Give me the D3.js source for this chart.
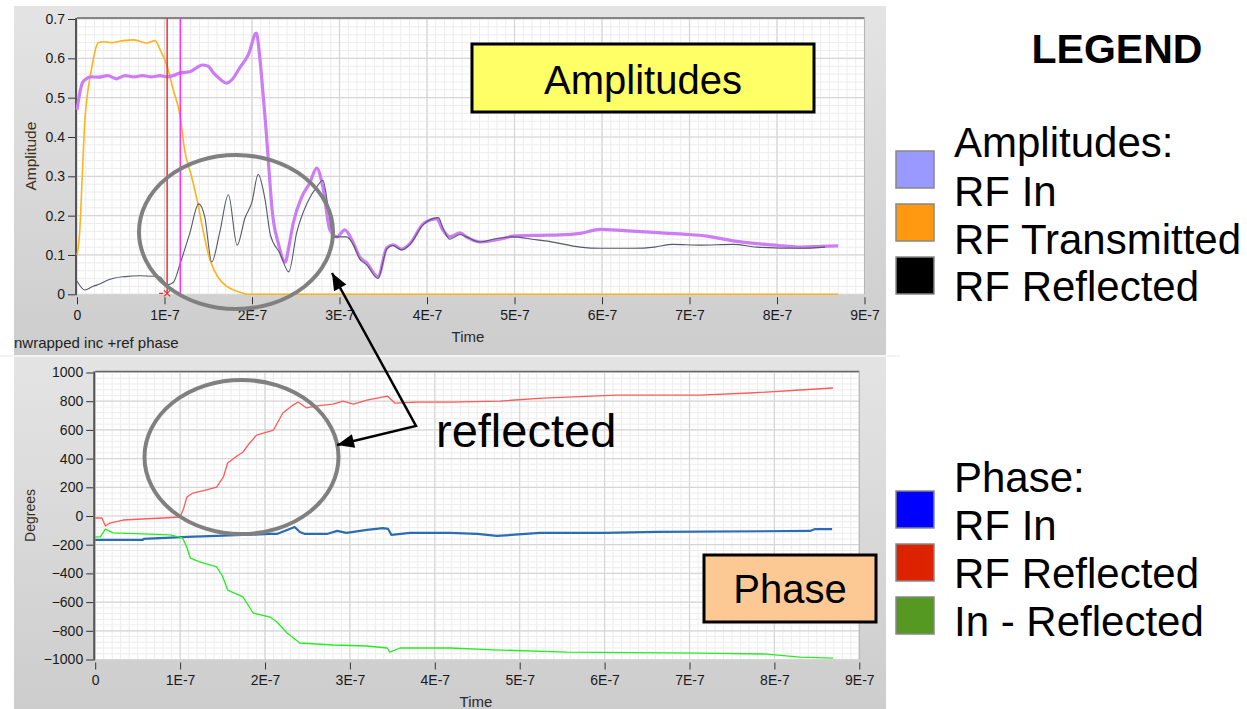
<!DOCTYPE html>
<html>
<head>
<meta charset="utf-8">
<script src="https://cdn.jsdelivr.net/npm/d3@7"></script>
<style>
  body { margin: 0; background: #fff; }
  svg { display: block; font-family: "Liberation Sans", Arial, sans-serif; }
</style>
</head>
<body>
<svg id="chart" width="1247" height="709"></svg>
<script>
// ---- data (time in ns) ----
const xTickValues = [0, 100, 200, 300, 400, 500, 600, 700, 800, 900];
const xTickLabels = ["0", "1E-7", "2E-7", "3E-7", "4E-7", "5E-7", "6E-7", "7E-7", "8E-7", "9E-7"];
const ampTicks = [0, 0.1, 0.2, 0.3, 0.4, 0.5, 0.6, 0.7];
const degTicks = [-1000, -800, -600, -400, -200, 0, 200, 400, 600, 800, 1000];

// amplitude: RF In
const ampInT = [0, 3, 6, 10, 15, 25, 35, 45, 55, 65, 75, 85, 95, 103, 110, 118, 129, 136, 143, 150, 156, 163, 171, 178, 186, 196, 205, 209, 213, 216, 219, 223, 230, 238, 242, 247, 257, 266, 274, 281, 289, 297, 306, 316, 323, 331, 344, 354, 361, 371, 381, 396, 411, 418, 426, 438, 445, 461, 487, 498, 529, 552, 575, 598, 625, 655, 693, 720, 750, 780, 807, 826, 850, 870];
const ampInV = [0.469, 0.51, 0.537, 0.547, 0.553, 0.552, 0.556, 0.548, 0.556, 0.553, 0.556, 0.553, 0.556, 0.553, 0.556, 0.563, 0.566, 0.575, 0.583, 0.58, 0.563, 0.548, 0.537, 0.548, 0.576, 0.61, 0.664, 0.6, 0.5, 0.42, 0.33, 0.214, 0.13, 0.082, 0.12, 0.18, 0.248, 0.283, 0.321, 0.273, 0.164, 0.146, 0.164, 0.13, 0.095, 0.08, 0.045, 0.118, 0.126, 0.115, 0.13, 0.18, 0.192, 0.164, 0.146, 0.156, 0.146, 0.133, 0.142, 0.148, 0.15, 0.151, 0.155, 0.165, 0.162, 0.158, 0.153, 0.148, 0.136, 0.128, 0.123, 0.12, 0.122, 0.123];
// amplitude: RF Transmitted
const ampTxT = [0, 3, 6, 9, 12, 15, 18, 21, 24, 30, 40, 53, 65, 80, 89, 95, 103, 110, 118, 123, 131, 138, 144, 152, 161, 170, 179, 188, 194, 870];
const ampTxV = [0.1, 0.156, 0.3, 0.443, 0.51, 0.553, 0.59, 0.622, 0.639, 0.642, 0.64, 0.645, 0.647, 0.639, 0.645, 0.622, 0.58, 0.52, 0.452, 0.367, 0.299, 0.232, 0.163, 0.087, 0.044, 0.022, 0.011, 0.004, 0, 0];
// amplitude: RF Reflected
const ampRefT = [0, 9, 18, 26, 34, 42, 55, 72, 85, 95, 103, 110, 118, 129, 139, 146, 154, 163, 173, 183, 192, 200, 207, 215, 221, 232, 242, 251, 263, 274, 281, 287, 293, 300, 308, 316, 323, 331, 344, 354, 361, 371, 381, 396, 413, 418, 426, 438, 445, 461, 480, 498, 520, 541, 575, 598, 636, 660, 681, 712, 750, 777, 826, 855];
const ampRefV = [0.034, 0.011, 0.02, 0.026, 0.035, 0.041, 0.045, 0.047, 0.046, 0.044, 0.024, 0.03, 0.079, 0.156, 0.23, 0.197, 0.082, 0.156, 0.253, 0.125, 0.194, 0.235, 0.305, 0.24, 0.151, 0.104, 0.057, 0.156, 0.232, 0.273, 0.29, 0.222, 0.146, 0.146, 0.146, 0.125, 0.09, 0.075, 0.04, 0.115, 0.124, 0.113, 0.128, 0.178, 0.195, 0.17, 0.14, 0.152, 0.146, 0.133, 0.142, 0.146, 0.14, 0.134, 0.12, 0.117, 0.117, 0.12, 0.127, 0.125, 0.127, 0.12, 0.117, 0.12];

// phase: RF In
const phInT = [0, 56, 57, 108, 143, 206, 214, 226, 235, 241, 247, 273, 285, 296, 320, 339, 345, 349, 371, 418, 450, 473, 490, 524, 600, 661, 842, 848, 868];
const phInV = [-167, -167, -160, -146, -139, -125, -125, -97, -77, -111, -125, -125, -104, -118, -97, -84, -90, -132, -118, -118, -125, -139, -132, -118, -118, -111, -104, -91, -91];
// phase: RF Reflected
const phRefT = [0, 8, 12, 17, 33, 55, 80, 100, 104, 108, 115, 130, 143, 151, 156, 167, 174, 182, 190, 202, 210, 221, 233, 239, 249, 261, 280, 292, 304, 320, 344, 353, 378, 418, 477, 527, 614, 712, 771, 830, 869];
const phRefV = [-14, -14, -70, -49, -28, -21, -14, -7, 50, 132, 160, 180, 202, 272, 369, 418, 446, 509, 564, 585, 599, 718, 773, 794, 753, 767, 780, 801, 780, 808, 836, 787, 794, 794, 801, 822, 843, 843, 857, 878, 892];
// phase: In - Reflected
const phDiffT = [0, 6, 12, 21, 56, 88, 103, 108, 112, 123, 143, 150, 156, 174, 186, 206, 214, 226, 241, 261, 280, 320, 344, 347, 359, 418, 477, 555, 712, 791, 830, 869];
const phDiffV = [-146, -146, -91, -118, -125, -132, -153, -220, -293, -320, -355, -420, -516, -564, -676, -704, -739, -815, -885, -892, -899, -906, -920, -948, -920, -920, -934, -948, -955, -962, -983, -990];

const cursorTimes = [103, 118];

const ampLegend = ["RF In", "RF Transmitted", "RF Reflected"];
const ampLegendColors = ["#9999ff", "#ff9911", "#000000"];
const phLegend = ["RF In", "RF Reflected", "In - Reflected"];
const phLegendColors = ["#0000ff", "#dd2200", "#559922"];

// ---- drawing ----
const svg = d3.select("#chart");

const defs = svg.append("defs");
const grad = defs.append("linearGradient").attr("id", "panelGrad")
  .attr("x1", 0).attr("y1", 0).attr("x2", 0).attr("y2", 1);
grad.append("stop").attr("offset", "0%").attr("stop-color", "#e4e4e4");
grad.append("stop").attr("offset", "100%").attr("stop-color", "#cdcdcd");

function drawPanel(cfg) {
  const g = svg.append("g");
  g.append("rect")
    .attr("x", 14).attr("y", cfg.panelTop)
    .attr("width", 872).attr("height", cfg.panelBottom - cfg.panelTop)
    .attr("fill", "url(#panelGrad)");

  const x = d3.scaleLinear().domain([0, 900]).range(cfg.xRange);
  const y = d3.scaleLinear().domain(cfg.yDomain).range(cfg.yRange);
  const [px0, px1] = cfg.xRange;
  const [py0, py1] = [cfg.yRange[1] - 1, cfg.yRange[0]];

  g.append("rect")
    .attr("x", px0).attr("y", py0)
    .attr("width", px1 - px0).attr("height", py1 - py0)
    .attr("fill", "#fff");

  // minor grid
  const xMinor = d3.range(0, 900.1, 10);
  const yStep = (cfg.yDomain[1] - cfg.yDomain[0]) / ((cfg.yTicks.length - 1) * 5);
  const yMinor = d3.range(cfg.yDomain[0], cfg.yDomain[1] + yStep / 2, yStep);
  g.append("g").selectAll("line").data(xMinor).join("line")
    .attr("x1", d => x(d)).attr("x2", d => x(d))
    .attr("y1", py0).attr("y2", py1)
    .attr("stroke", "#ededed").attr("stroke-width", 1);
  g.append("g").selectAll("line").data(yMinor).join("line")
    .attr("x1", px0).attr("x2", px1)
    .attr("y1", d => y(d)).attr("y2", d => y(d))
    .attr("stroke", "#ededed").attr("stroke-width", 1);
  // major grid
  g.append("g").selectAll("line").data(xTickValues).join("line")
    .attr("x1", d => x(d)).attr("x2", d => x(d))
    .attr("y1", py0).attr("y2", py1)
    .attr("stroke", "#d6d6d6").attr("stroke-width", 1.2);
  g.append("g").selectAll("line").data(cfg.yTicks).join("line")
    .attr("x1", px0).attr("x2", px1)
    .attr("y1", d => y(d)).attr("y2", d => y(d))
    .attr("stroke", "#d6d6d6").attr("stroke-width", 1.2);

  // frame
  g.append("line").attr("x1", px0).attr("x2", px1).attr("y1", py0).attr("y2", py0)
    .attr("stroke", "#666").attr("stroke-width", 1.5);
  g.append("line").attr("x1", px1).attr("x2", px1).attr("y1", py0).attr("y2", py1)
    .attr("stroke", "#b5b5b5").attr("stroke-width", 1);
  g.append("line").attr("x1", px0 - 1).attr("x2", px0 - 1).attr("y1", py0).attr("y2", py1 + 1)
    .attr("stroke", "#555").attr("stroke-width", 2);

  // axes
  const yAxis = g.append("g")
    .attr("transform", `translate(${px0 - 2},0)`)
    .call(d3.axisLeft(y).tickValues(cfg.yTicks).tickSize(7).tickPadding(3)
      .tickFormat(cfg.yFormat));
  const xAxis = g.append("g")
    .attr("transform", `translate(0,${py1 + 3})`)
    .call(d3.axisBottom(x).tickValues(xTickValues).tickSize(7).tickPadding(6)
      .tickFormat((d, i) => xTickLabels[i]));
  [xAxis, yAxis].forEach(a => {
    a.select(".domain").remove();
    a.selectAll(".tick line").attr("stroke", "#333");
    a.selectAll(".tick text").attr("fill", "#1a1a1a")
      .style("font-family", "'Liberation Sans', Arial, sans-serif").style("font-size", "14px");
  });

  g.append("text")
    .attr("transform", `translate(${cfg.yLabelX},${(py0 + py1) / 2}) rotate(-90)`)
    .attr("text-anchor", "middle").attr("dy", "0.35em")
    .attr("fill", "#3c3020").style("font-size", cfg.yLabelSize)
    .text(cfg.yLabel);
  g.append("text")
    .attr("x", cfg.timeX).attr("y", cfg.timeY)
    .attr("text-anchor", "middle").attr("fill", "#2a2a2a")
    .style("font-size", "15px").text("Time");

  const plot = g.append("g");
  cfg.series.forEach(s => {
    const line = d3.line().x(d => x(d[0])).y(d => y(d[1]))
      .curve(cfg.smooth ? d3.curveMonotoneX : d3.curveLinear);
    plot.append("path")
      .datum(d3.zip(s.t, s.v))
      .attr("d", line)
      .attr("fill", "none")
      .attr("stroke", s.color)
      .attr("stroke-width", s.width)
      .attr("stroke-linejoin", "round");
  });
  return { g, x, y, py0, py1 };
}

const ampPanel = drawPanel({
  panelTop: 6, panelBottom: 355,
  xRange: [77, 864.5], yDomain: [0, 0.7], yRange: [294.3, 19],
  yTicks: ampTicks, yFormat: d => d === 0 ? "0" : d3.format(".1f")(d),
  yLabel: "Amplitude", yLabelX: 31, yLabelSize: "15.5px",
  timeX: 468, timeY: 342, smooth: true,
  series: [
    { t: ampTxT, v: ampTxV, color: "#ffb21e", width: 1.6 },
    { t: ampInT, v: ampInV, color: "#cc7df5", width: 3.2 },
    { t: ampRefT, v: ampRefV, color: "#55596a", width: 1.1 }
  ]
});

// cursors on the amplitude graph
const cursorColors = ["#f03030", "#ff30ff"];
ampPanel.g.selectAll(".cursor").data(cursorTimes).join("line")
  .attr("class", "cursor")
  .attr("x1", d => ampPanel.x(d)).attr("x2", d => ampPanel.x(d))
  .attr("y1", ampPanel.py0).attr("y2", ampPanel.py1)
  .attr("stroke", (d, i) => cursorColors[i]).attr("stroke-width", 1.5);
const cx0 = ampPanel.x(cursorTimes[0]);
const cyb = ampPanel.py1;
ampPanel.g.append("path")
  .attr("d", `M${cx0 - 3},${cyb - 4}L${cx0 + 3},${cyb + 2}M${cx0 + 3},${cyb - 4}L${cx0 - 3},${cyb + 2}M${cx0 - 8},${cyb - 1}L${cx0 - 4},${cyb - 1}`)
  .attr("stroke", "#f03030").attr("stroke-width", 1.2).attr("fill", "none");

svg.append("text").attr("x", 14).attr("y", 348)
  .attr("fill", "#222").style("font-size", "15px")
  .text("nwrapped inc +ref phase");

svg.append("rect").attr("x", 0).attr("y", 355).attr("width", 900).attr("height", 2).attr("fill", "#f4f4f4");

drawPanel({
  panelTop: 357, panelBottom: 709,
  xRange: [95.2, 859.3], yDomain: [-1000, 1000], yRange: [659.5, 372.5],
  yTicks: degTicks, yFormat: d3.format("d"),
  yLabel: "Degrees", yLabelX: 30, yLabelSize: "14px",
  timeX: 476, timeY: 707, smooth: false,
  series: [
    { t: phInT, v: phInV, color: "#2a6db5", width: 2.2 },
    { t: phRefT, v: phRefV, color: "#ff5a5a", width: 1.3 },
    { t: phDiffT, v: phDiffV, color: "#22ee22", width: 1.3 }
  ]
});

// annotation boxes
function labelBox(x0, y0, w, h, fill, text, size, base) {
  svg.append("rect").attr("x", x0).attr("y", y0).attr("width", w).attr("height", h)
    .attr("fill", fill).attr("stroke", "#000").attr("stroke-width", 3);
  svg.append("text").attr("x", x0 + w / 2).attr("y", base)
    .attr("text-anchor", "middle").attr("fill", "#000")
    .style("font-size", size).text(text);
}
labelBox(472, 44, 342, 68, "#ffff66", "Amplitudes", "40px", 94);
labelBox(704, 555, 172, 67, "#fcc994", "Phase", "40px", 603);

// ellipses and arrows
const ann = svg.append("g");
[[236, 232], [241.5, 457]].forEach(c => {
  ann.append("ellipse").attr("cx", c[0]).attr("cy", c[1]).attr("rx", 97).attr("ry", 77)
    .attr("fill", "none").attr("stroke", "#808080").attr("stroke-width", 4);
});
const vtx = [416, 426], tip1 = [332, 273], tip2 = [337, 445];
ann.append("polyline")
  .attr("points", [tip1, vtx, tip2].map(p => p.join(",")).join(" "))
  .attr("fill", "none").attr("stroke", "#000").attr("stroke-width", 2.5);
function arrowHead(tip, from) {
  const a = Math.atan2(tip[1] - from[1], tip[0] - from[0]);
  const L = 17, W = 7;
  const bx = tip[0] - L * Math.cos(a), by = tip[1] - L * Math.sin(a);
  const p1 = [bx + W * Math.sin(a), by - W * Math.cos(a)];
  const p2 = [bx - W * Math.sin(a), by + W * Math.cos(a)];
  ann.append("path").attr("d", `M${tip}L${p1}L${p2}Z`).attr("fill", "#000");
}
arrowHead(tip1, vtx);
arrowHead(tip2, vtx);
svg.append("text").attr("x", 436).attr("y", 447)
  .attr("fill", "#000").style("font-size", "47px").text("reflected");

// legend
const leg = svg.append("g");
leg.append("text").attr("x", 1117).attr("y", 63).attr("text-anchor", "middle")
  .style("font-size", "41px").style("font-weight", "bold").text("LEGEND");

function legendBlock(title, names, colors, titleBase, firstBase, step, boxTop) {
  leg.append("text").attr("x", 954).attr("y", titleBase)
    .style("font-size", "42px").text(title);
  names.forEach((n, i) => {
    leg.append("rect").attr("x", 896).attr("y", boxTop + i * 53)
      .attr("width", 38).attr("height", 37)
      .attr("fill", colors[i]).attr("stroke", "#888").attr("stroke-width", 1.5);
    leg.append("text").attr("x", 954).attr("y", firstBase + i * step)
      .style("font-size", "42px").text(n);
  });
}
legendBlock("Amplitudes:", ampLegend, ampLegendColors, 157, 206, 47.5, 151);
legendBlock("Phase:", phLegend, phLegendColors, 492, 540, 48, 491);
</script>
</body>
</html>
